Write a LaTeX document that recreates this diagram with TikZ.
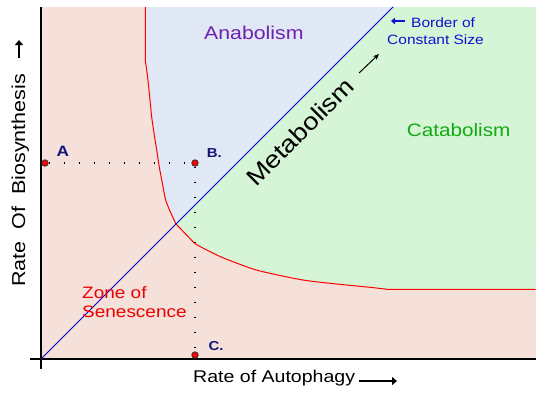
\documentclass[tikz,border=0pt]{standalone}
\usepackage{fontspec}
\setmainfont{Liberation Sans}[FakeStretch=1.15]
\usetikzlibrary{arrows.meta}
\definecolor{pinkbg}{HTML}{F5E1DA}
\definecolor{bluebg}{HTML}{E0E8F6}
\definecolor{greenbg}{HTML}{D6F5D6}
\definecolor{anacol}{HTML}{7020B0}
\definecolor{catacol}{HTML}{11AA11}
\definecolor{navy}{HTML}{141478}
\definecolor{bordercol}{HTML}{1010D0}
\definecolor{zonecol}{HTML}{EE0000}
\newcommand\myfs[1]{\fontsize{#1}{#1}\selectfont}
\tikzset{
  lbl/.style={inner sep=0pt, anchor=base west},
  ptlbl/.style={lbl, text=navy, font=\myfs{13}\bfseries},
  reddot/.style={circle, fill=red, draw=black!80, line width=0.8pt, minimum size=6.5pt, inner sep=0pt},
  dotline/.style={line width=1.3pt, dash pattern=on 1.3pt off 13.7pt},
  axis/.style={line width=2.6pt, black},
  bigarrow/.style={line width=2.6pt, -{Triangle[length=5pt,width=8pt]}},
  redcurve/.style={red, line width=1pt},
  diag/.style={blue!80!black, line width=1pt}
}
\begin{document}
\begin{tikzpicture}[x=1pt,y=-1pt]
\useasboundingbox (0,0) rectangle (541,397);
\coordinate (tl) at (41,7);
\coordinate (tr) at (536,7);
\coordinate (br) at (536,359);
\coordinate (o) at (41,359);
\coordinate (bt) at (393,7);
\coordinate (ix) at (176,224);
% regions
\fill[pinkbg] (tl) rectangle (br);
\fill[bluebg] (145.3,7) -- plot[smooth,tension=0.5] coordinates {(145.3,61) (146.7,70) (148.3,83) (150,100) (151.7,117) (154,133) (156.7,150) (159.3,167) (162.3,183) (165.7,200) (170,211) (ix)} -- (bt) -- cycle;
\fill[greenbg] (bt) -- (ix) -- (195,243.7) -- plot[smooth,tension=0.5] coordinates {(195,243.7) (206.7,250) (220,256.5) (233,261.7) (253,269) (270,273.3) (303,280) (336.7,284) (370,287.3) (387.3,289.3)} -- (535.7,289.3) -- (tr) -- cycle;
% curve
\draw[redcurve] (145.3,7) -- plot[smooth,tension=0.5] coordinates {(145.3,61) (146.7,70) (148.3,83) (150,100) (151.7,117) (154,133) (156.7,150) (159.3,167) (162.3,183) (165.7,200) (170,211) (ix)} -- (195,243.7) -- plot[smooth,tension=0.5] coordinates {(195,243.7) (206.7,250) (220,256.5) (233,261.7) (253,269) (270,273.3) (303,280) (336.7,284) (370,287.3) (387.3,289.3)} -- (535.7,289.3);
% diagonal
\draw[diag] (o) -- (bt);
% axes
\coordinate (yb) at (41,369);
\coordinate (xl) at (30,359);
\draw[axis] (tl) -- (yb);
\draw[axis] (xl) -- (br);
% points
\node[reddot] (A) at (45,163) {};
\node[reddot] (B) at (195,163) {};
\node[reddot] (C) at (195,355) {};
\draw[dotline] (A) -- (B);
\draw[dotline] (B) -- (C);
\node[ptlbl, font=\myfs{15}\bfseries] (Al) at (56.5,156.5) {A};
\node[ptlbl] (Bl) at (206.7,157.3) {B.};
\node[ptlbl] (Cl) at (208.3,350.7) {C.};
% region labels
\node[lbl, text=anacol, font=\myfs{18.5}] (ana) at (204,39.3) {Anabolism};
\node[lbl, text=catacol, font=\myfs{18}] (cata) at (406.7,136) {Catabolism};
\node[lbl, text=zonecol, font=\myfs{16.5}] (zone1) at (82,298) {Zone of};
\node[lbl, text=zonecol, font=\myfs{16.5}] (zone2) at (82,317) {Senescence};
\node[lbl, text=bordercol, font=\myfs{13.5}] (bord1) at (411,27) {Border of};
\node[lbl, text=bordercol, font=\myfs{13.5}] (bord2) at (387,44) {Constant Size};
\coordinate (ba1) at (405,21);
\coordinate (ba2) at (391,21);
\draw[bordercol, line width=2.4pt, -{Triangle[length=4pt,width=6.5pt]}] (ba1) -- (ba2);
% metabolism
\node[lbl, rotate=45, font=\myfs{24}] (meta) at (256,188) {Metabolism};
\coordinate (ma1) at (359,73);
\coordinate (ma2) at (379,54);
\draw[line width=1pt, -{Stealth[length=6pt,width=5pt]}] (ma1) -- (ma2);
% axis labels
\node[lbl, font=\myfs{17}] (xlab) at (193,382) {Rate of Autophagy};
\coordinate (xa1) at (359,381);
\coordinate (xa2) at (397,381);
\draw[bigarrow] (xa1) -- (xa2);
\node[lbl, rotate=90, font=\myfs{18.7}] (ylab) at (25,287) {Rate\ \ Of\ \ Biosynthesis};
\coordinate (ya1) at (19,58);
\coordinate (ya2) at (19,40);
\draw[bigarrow] (ya1) -- (ya2);
\end{tikzpicture}
\end{document}
